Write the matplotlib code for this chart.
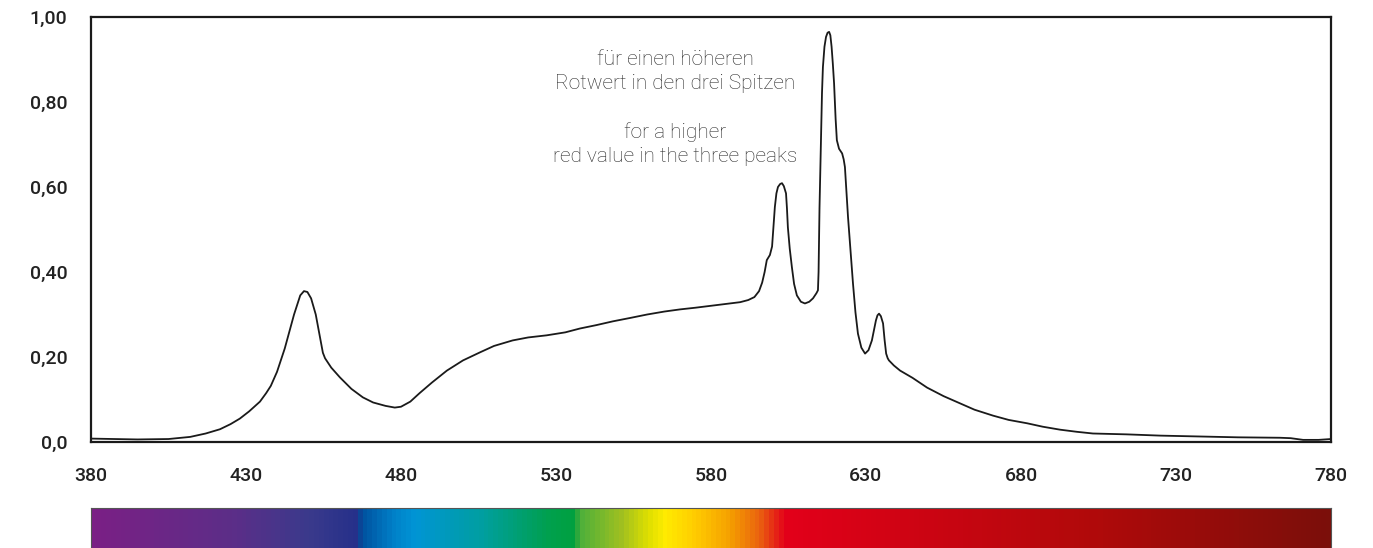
"""Relative spectral distribution with visible spectrum strip"""
import numpy as np
import matplotlib
matplotlib.use('Agg')
from matplotlib import pyplot as plt
from matplotlib.colors import LinearSegmentedColormap

# Spectrum curve (wavelength nm, relative intensity)
wavelength = [380, 395, 405, 412, 417, 421.6, 425, 428, 431, 434.5, 436.5,
              438, 440, 442.5, 445.5, 447.5, 448.7, 449.8, 451, 452.5, 453.9,
              454.8, 455.5, 457.5, 460.3, 464, 467.7, 471, 475, 478, 480, 483,
              486, 490, 494.8, 500, 505.5, 510, 516, 521, 527, 533, 537.7,
              543, 548.4, 554, 559.4, 565, 570, 575, 580.6, 585, 589.4, 592,
              594, 595.5, 596.5, 597.3, 598, 599, 599.7, 600.2, 600.6, 601.1,
              601.6, 602.3, 602.9, 603.5, 604.2, 604.5, 604.8, 605.4, 606.1,
              606.8, 607.7, 609, 610.3, 611.7, 612.9, 614, 614.5, 614.7, 615.0,
              615.5, 615.8, 616.1, 616.6, 617.1, 617.6, 618.1, 618.5, 618.9,
              619.3, 619.7, 620.2, 620.6, 621.3, 622.3, 622.8, 623.2, 623.7,
              624.2, 625, 625.8, 626.6, 627.4, 628.5, 629.7, 630.8, 631.9,
              632.6, 633.2, 633.7, 634.2, 634.8, 635.5, 636, 636.5, 637,
              637.4, 639, 641, 645, 649.7, 655, 660.3, 665, 671, 676, 682,
              687, 692.6, 698, 703.2, 714, 725, 738, 750, 763.5, 767, 771,
              776, 780]
intensity = [0.008, 0.006, 0.007, 0.012, 0.020, 0.030, 0.042, 0.055, 0.072,
             0.095, 0.115, 0.132, 0.165, 0.220, 0.300, 0.345, 0.355, 0.353,
             0.338, 0.300, 0.246, 0.210, 0.197, 0.175, 0.152, 0.125, 0.105,
             0.093, 0.085, 0.081, 0.083, 0.095, 0.115, 0.140, 0.168, 0.192,
             0.211, 0.226, 0.239, 0.246, 0.251, 0.258, 0.267, 0.275, 0.284,
             0.292, 0.300, 0.307, 0.312, 0.316, 0.321, 0.325, 0.329, 0.334,
             0.341, 0.355, 0.375, 0.400, 0.428, 0.440, 0.460, 0.510, 0.553,
             0.585, 0.600, 0.607, 0.609, 0.602, 0.585, 0.550, 0.505, 0.455,
             0.411, 0.372, 0.345, 0.330, 0.326, 0.330, 0.338, 0.350, 0.357,
             0.400, 0.550, 0.726, 0.820, 0.882, 0.930, 0.953, 0.963, 0.965,
             0.957, 0.930, 0.890, 0.844, 0.760, 0.710, 0.690, 0.679, 0.665,
             0.647, 0.590, 0.529, 0.450, 0.373, 0.305, 0.255, 0.222, 0.208,
             0.216, 0.239, 0.265, 0.286, 0.298, 0.302, 0.296, 0.279, 0.240,
             0.208, 0.197, 0.192, 0.180, 0.168, 0.151, 0.128, 0.108, 0.091,
             0.076, 0.062, 0.052, 0.044, 0.036, 0.029, 0.024, 0.020, 0.018,
             0.015, 0.013, 0.011, 0.010, 0.009, 0.005, 0.005, 0.007]

xticks = [380, 430, 480, 530, 580, 630, 680, 730, 780]
yticks = [0.0, 0.2, 0.4, 0.6, 0.8, 1.0]
ytick_labels = ['0,0', '0,20', '0,40', '0,60', '0,80', '1,00']

note = ('für einen höheren\nRotwert in den drei Spitzen\n\n'
        'for a higher\nred value in the three peaks')

# Colour stops of the spectrum strip (nm, colour)
strip_nm = [380, 425, 450, 465.8, 466.5, 477, 484, 506, 527, 535.5, 538,
            551, 560, 565, 576, 586, 596, 604, 705, 780]
strip_colors = ['#7b2085', '#5c2e88', '#3a3a8c', '#25308a', '#004f9d',
                '#0080c8', '#0095d5', '#009fa0', '#00a04f', '#00a040',
                '#4fb03a', '#a0c020', '#e0e000', '#ffec00', '#ffc800',
                '#f5a000', '#ea6010', '#e3001a', '#b00a0a', '#7b0f0a']


def plot():
    fig = plt.figure(figsize=(13.73, 5.48), dpi=100)
    plt.rcParams['font.family'] = ['Roboto', 'DejaVu Sans']

    ax = fig.add_axes([91 / 1373, 1 - 442 / 548, 1240 / 1373, 425 / 548])
    ax.plot(wavelength, intensity, color='#1a1a1a', lw=1.3,
            solid_joinstyle='round')
    ax.set_xlim(380, 780)
    ax.set_ylim(0, 1)
    ax.set_xticks(xticks)
    ax.set_yticks(yticks)
    ax.set_yticklabels(ytick_labels)
    ax.tick_params(length=0, labelsize=14, colors='#222222')
    ax.tick_params(axis='x', pad=18)
    ax.tick_params(axis='y', pad=17)
    for lbl in ax.get_xticklabels() + ax.get_yticklabels():
        lbl.set_fontweight('medium')
    for sp in ax.spines.values():
        sp.set_linewidth(1.6)
        sp.set_color('#1a1a1a')

    ax.text(568.4, 0.786, note, ha='center', va='center', fontsize=15,
            fontweight='light', color='#2a2a2a', linespacing=1.32)

    # Spectrum strip
    pos = [(v - 380) / 400 for v in strip_nm]
    cmap = LinearSegmentedColormap.from_list('spec', list(zip(pos, strip_colors)))
    cax = fig.add_axes([91 / 1373, -0.01, 1240 / 1373, 0.083])
    grad = np.linspace(0, 1, 1240)[None, :]
    cax.imshow(grad, aspect='auto', cmap=cmap, extent=[380, 780, 0, 1])
    cax.set_xticks([])
    cax.set_yticks([])
    for sp in cax.spines.values():
        sp.set_linewidth(0.8)
        sp.set_color('#555555')

    fig.savefig('out.png', dpi=100)


if __name__ == '__main__':
    plot()
